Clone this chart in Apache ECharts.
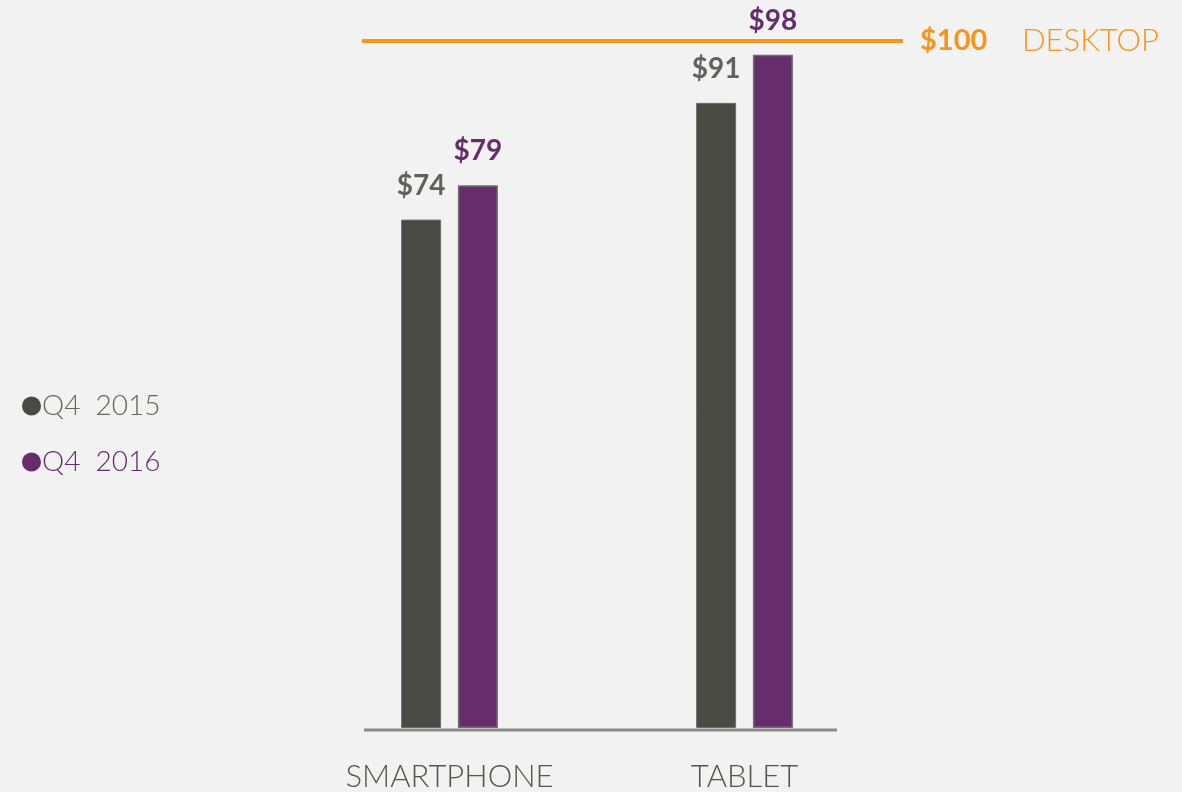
<!DOCTYPE html>
<html>
<head>
<meta charset="utf-8">
<script src="https://cdn.jsdelivr.net/npm/echarts@6/dist/echarts.min.js"></script>
<style>
  html, body { margin: 0; padding: 0; background: #f2f2f2; }
  #chart { width: 1182px; height: 792px; }
</style>
</head>
<body>
<div id="chart"></div>
<script>
var categories = ['SMARTPHONE', 'TABLET'];
var seriesNames = ['Q4 2015', 'Q4 2016'];
var q42015 = [74, 91];
var q42016 = [79, 98];
var desktopValue = 100;

var dark = '#4a4a45';
var purple = '#652d6b';
var orange = '#f7941d';
var font = 'Lato';

var chart = echarts.init(document.getElementById('chart'));

function valueLabel(color) {
  return {
    show: true,
    position: 'top',
    distance: 20,
    formatter: function (p) { return '$' + p.value; },
    color: color,
    fontFamily: font,
    fontWeight: 'bold',
    fontSize: 28
  };
}

chart.setOption({
  backgroundColor: '#f2f2f2',
  animation: false,
  legend: {
    orient: 'vertical',
    left: 17,
    top: 387,
    itemGap: 28,
    itemWidth: 19,
    itemHeight: 19,
    icon: 'circle',
    itemStyle: { borderWidth: 0 },
    textStyle: { fontFamily: font, fontSize: 28, fontWeight: 300, color: '#666660', padding: [0, 0, 0, -4] },
    formatter: function (name) { return name.replace(' ', '  '); },
    data: [
      { name: seriesNames[0], textStyle: { color: '#666660' } },
      { name: seriesNames[1], textStyle: { color: purple } }
    ]
  },
  grid: { left: 302, right: 290, top: 41, bottom: 63 },
  xAxis: {
    type: 'category',
    data: categories,
    axisLine: { show: false },
    axisTick: { show: false },
    axisLabel: { margin: 33, fontFamily: font, fontSize: 31, fontWeight: 300, color: '#55554f' }
  },
  yAxis: {
    type: 'value',
    min: 0,
    max: 100,
    show: false
  },
  graphic: [{
    type: 'line',
    shape: { x1: 364, y1: 730, x2: 837, y2: 730 },
    style: { stroke: '#8a8a8a', lineWidth: 3 }
  }],
  series: [
    {
      name: seriesNames[0],
      type: 'bar',
      data: q42015,
      barWidth: 40,
      barGap: '42%',
      itemStyle: { color: dark, borderColor: '#6e6e6a', borderWidth: 1 },
      label: valueLabel('#62625d')
    },
    {
      name: seriesNames[1],
      type: 'bar',
      data: q42016,
      barWidth: 40,
      itemStyle: { color: purple, borderColor: '#6e6e6a', borderWidth: 1.5 },
      label: valueLabel(purple),
      markLine: {
        silent: true,
        symbol: 'none',
        lineStyle: { color: orange, width: 4, type: 'solid' },
        label: {
          show: true,
          position: 'end',
          distance: 17,
          formatter: '{a|$' + desktopValue + '}{b|DESKTOP}',
          rich: {
            a: { color: orange, fontFamily: font, fontWeight: 'bold', fontSize: 29, width: 102 },
            b: { color: orange, fontFamily: font, fontWeight: 300, fontSize: 31 }
          }
        },
        data: [[{ x: 362, yAxis: desktopValue }, { x: 903, yAxis: desktopValue }]]
      }
    }
  ]
});
</script>
</body>
</html>
